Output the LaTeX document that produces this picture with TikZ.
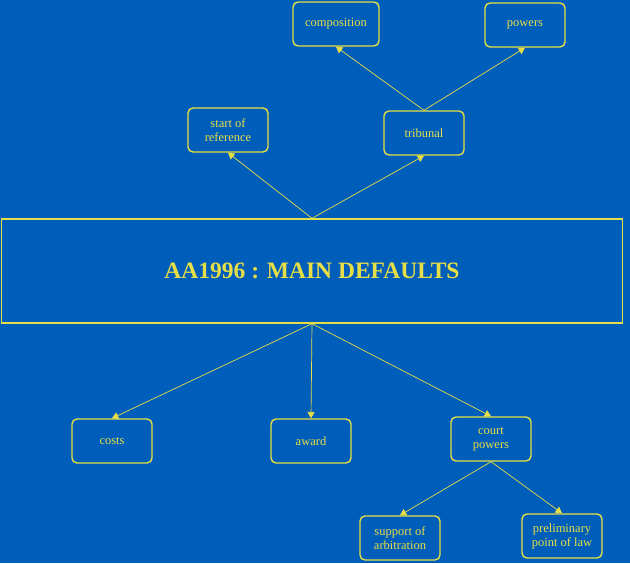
\documentclass[tikz,border=0pt]{standalone}
\usepackage{fontspec}
\setmainfont{Liberation Serif}
\usetikzlibrary{arrows}
\definecolor{aablue}{RGB}{0,94,187}
\definecolor{aayellow}{RGB}{230,222,70}

\begin{document}
\begin{tikzpicture}[x=1pt, y=-1pt,
    topic/.style={draw=aayellow, line width=1.4pt, rounded corners=5pt, text=aayellow, minimum width=80pt, minimum height=44pt, align=center, font=\fontsize{12.5}{14}\selectfont},
    link/.style={draw=aayellow, ->, >=triangle 60, line width=0.7pt}]
        % Background
        \fill [aablue] (0,0) rectangle (630,563);
        \useasboundingbox (0,0) rectangle (630,563);

        % Main box
        \node [draw=aayellow, line width=1.4pt, text=aayellow, minimum width=621pt, minimum height=104pt, font=\fontsize{23.5}{26}\selectfont\bfseries] (main) at (312,271) {AA1996 : MAIN DEFAULTS};

        % Upper topics
        \node [topic] (start) at (228,130) {start of\\reference};
        \node [topic] (tribunal) at (424,133) {tribunal};
        \node [topic, minimum width=86pt] (composition) at (336,24) {composition};
        \node [topic] (powers) at (525,25) {powers};

        % Lower topics
        \node [topic] (costs) at (112,441) {costs};
        \node [topic] (award) at (311,441) {award};
        \node [topic] (court) at (491,439) {court\\powers};
        \node [topic] (support) at (400,538) {support of\\arbitration};
        \node [topic] (prelim) at (562,536) {preliminary\\point of law};

        % Arrows
        \draw [link] (main.north) -- (start.south);
        \draw [link] (main.north) -- (tribunal.south);
        \draw [link] (tribunal.north) -- (composition.south);
        \draw [link] (tribunal.north) -- (powers.south);
        \draw [link] (main.south) -- (costs.north);
        \draw [link] (main.south) -- (award.north);
        \draw [link] (main.south) -- (court.north);
        \draw [link] (court.south) -- (support.north);
        \draw [link] (court.south) -- (prelim.north);
    \end{tikzpicture}
\end{document}
